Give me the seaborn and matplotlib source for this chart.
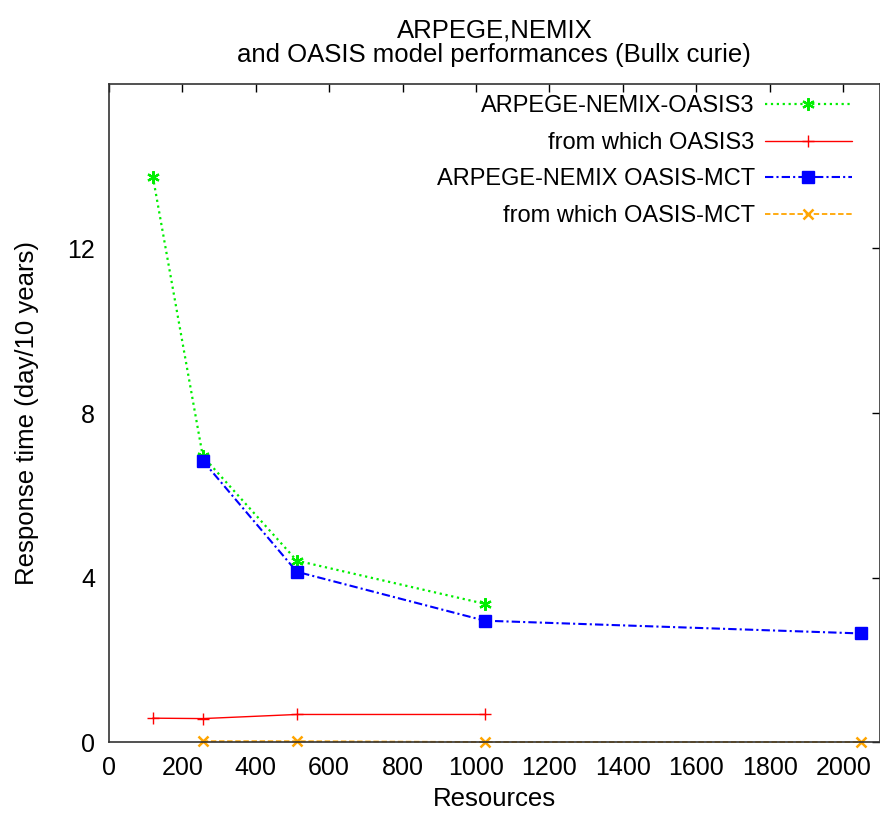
import matplotlib
matplotlib.use("Agg")
import matplotlib.pyplot as plt
import seaborn as sns
import pandas as pd

sns.set_theme(style="white")
plt.rcParams['font.family'] = ['Liberation Sans', 'DejaVu Sans']
plt.rcParams['text.color'] = 'black'
plt.rcParams['axes.labelcolor'] = 'black'

# Data
x_oasis3 = [120, 256, 512, 1024]
y_total_oasis3 = [13.75, 6.95, 4.41, 3.36]
y_part_oasis3 = [0.58, 0.57, 0.67, 0.67]

x_mct = [256, 512, 1024, 2048]
y_total_mct = [6.84, 4.14, 2.95, 2.64]
y_part_mct = [0.02, 0.02, 0.0, 0.0]

labels = ["ARPEGE-NEMIX-OASIS3", "from which OASIS3",
          "ARPEGE-NEMIX OASIS-MCT", "from which OASIS-MCT"]
xticks = list(range(0, 2001, 200))
yticks = [0, 4, 8, 12]

fig = plt.figure(figsize=(8.8, 8.13), dpi=100)
ax = fig.add_axes([0.1236, 0.0873, 0.8764, 0.8094])

series = [
    (x_oasis3, y_total_oasis3, labels[0], "#00ee00", ":", (6, 2, 0), 9, 1.6, 1.6, 3),
    (x_oasis3, y_part_oasis3, labels[1], "#ff0000", "-", "+", 9, 1.0, 1.0, 3),
    (x_mct, y_total_mct, labels[2], "#0000ff", (0, (4, 1.5, 1, 1.5)), "s", 8, 1.5, 1.0, 3),
    (x_mct, y_part_mct, labels[3], "#ffa500", (0, (3, 1.5)), "x", 7.5, 1.3, 1.8, 2),
]

for xs, ys, lab, col, ls, mk, ms, lw, mew, z in series:
    df = pd.DataFrame({"x": xs, "y": ys})
    sns.lineplot(data=df, x="x", y="y", ax=ax, color=col, linestyle=ls,
                 marker=mk, markersize=ms, linewidth=lw, label=lab,
                 markeredgecolor=col, markeredgewidth=mew,
                 clip_on=False, zorder=z)

ax.set_xlim(0, 2100)
ax.set_ylim(0, 16)
ax.set_xticks(xticks)
ax.set_yticks(yticks)
ax.tick_params(axis='both', direction='in', length=6, width=1, colors='black',
               labelsize=18, top=True, right=True)
ax.tick_params(axis='x', pad=10)
ax.tick_params(axis='y', pad=10)
for s in ax.spines.values():
    s.set_color('#333333')
    s.set_linewidth(1.2)

ax.set_xlabel("Resources", fontsize=18.5, labelpad=5)
ax.set_ylabel("Response time (day/10 years)", fontsize=18.5, labelpad=20)
ax.set_title("ARPEGE,NEMIX\nand OASIS model performances (Bullx curie)",
             fontsize=18.5, pad=16, linespacing=1.0)

handles, labs = ax.get_legend_handles_labels()
leg = ax.legend(handles, labs, loc='upper right', bbox_to_anchor=(0.9637, 0.983),
                frameon=False, markerfirst=False, fontsize=17,
                borderaxespad=0, borderpad=0,
                handlelength=3.7, labelspacing=0.62, handletextpad=0.42)

fig.savefig("out.png", dpi=100)
